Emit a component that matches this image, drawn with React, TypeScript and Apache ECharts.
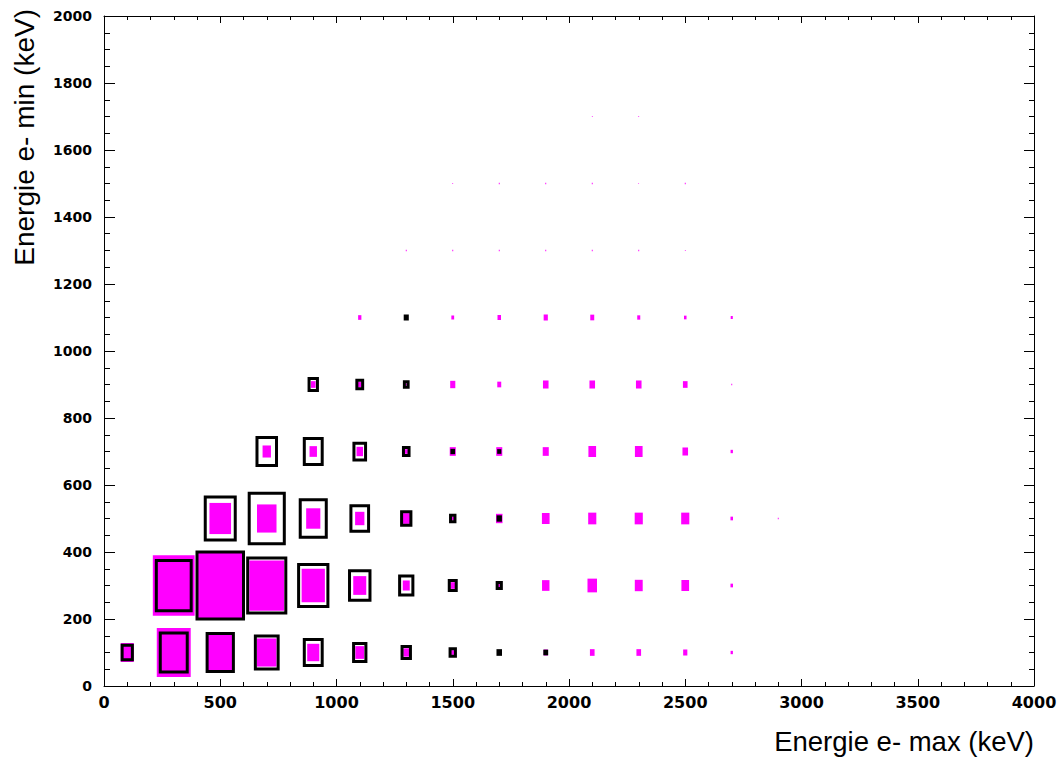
import React, { useEffect, useRef } from "react";
import * as echarts from "echarts";

// Bin geometry (keV)
const binWidth = 200;
const xCenters = [100, 300, 500, 700, 900, 1100, 1300, 1500, 1700, 1900, 2100, 2300, 2500, 2700, 2900];
const yCenters = [100, 300, 500, 700, 900, 1100, 1300, 1500, 1700];

// Relative bin contents (box size fraction), magenta filled histogram
const magentaRow100 = [0.28, 0.73, 0.53, 0.42, 0.26, 0.19, 0.125, 0.07, 0.03, 0.09, 0.1, 0.1, 0.09, 0.05, 0];
const magentaRow300 = [0, 0.9, 1.0, 0.75, 0.5, 0.28, 0.15, 0.1, 0.045, 0.16, 0.205, 0.17, 0.165, 0.055, 0];
const magentaRow500 = [0, 0, 0.465, 0.42, 0.305, 0.2, 0.16, 0.055, 0.14, 0.165, 0.175, 0.175, 0.175, 0.055, 0.02];
const magentaRow700 = [0, 0, 0, 0.18, 0.16, 0.14, 0.07, 0.13, 0.13, 0.13, 0.165, 0.165, 0.12, 0.05, 0];
const magentaRow900 = [0, 0, 0, 0, 0.1, 0.08, 0.03, 0.11, 0.085, 0.12, 0.12, 0.12, 0.1, 0.02, 0];
const magentaRow1100 = [0, 0, 0, 0, 0, 0.07, 0.02, 0.06, 0.075, 0.09, 0.085, 0.065, 0.055, 0.045, 0];
const magentaRow1300 = [0, 0, 0, 0, 0, 0, 0.02, 0.02, 0.02, 0.02, 0.02, 0.02, 0.015, 0, 0];
const magentaRow1500 = [0, 0, 0, 0, 0, 0, 0, 0.015, 0.02, 0.02, 0.02, 0.012, 0.02, 0, 0];
const magentaRow1700 = [0, 0, 0, 0, 0, 0, 0, 0, 0, 0, 0.015, 0.015, 0, 0, 0];

// Relative bin contents, black outlined histogram
const blackRow100 = [0.22, 0.58, 0.565, 0.49, 0.385, 0.265, 0.18, 0.115, 0.055, 0.04, 0, 0, 0, 0, 0];
const blackRow300 = [0, 0.75, 1.0, 0.82, 0.63, 0.44, 0.285, 0.15, 0.09, 0, 0, 0, 0, 0, 0];
const blackRow500 = [0, 0, 0.645, 0.755, 0.56, 0.38, 0.2, 0.095, 0.05, 0, 0, 0, 0, 0, 0];
const blackRow700 = [0, 0, 0, 0.42, 0.385, 0.25, 0.12, 0.035, 0.025, 0, 0, 0, 0, 0, 0];
const blackRow900 = [0, 0, 0, 0, 0.18, 0.125, 0.08, 0, 0, 0, 0, 0, 0, 0, 0];
const blackRow1100 = [0, 0, 0, 0, 0, 0, 0.045, 0, 0, 0, 0, 0, 0, 0, 0];
const blackRow1300 = [0, 0, 0, 0, 0, 0, 0, 0, 0, 0, 0, 0, 0, 0, 0];
const blackRow1500 = [0, 0, 0, 0, 0, 0, 0, 0, 0, 0, 0, 0, 0, 0, 0];
const blackRow1700 = [0, 0, 0, 0, 0, 0, 0, 0, 0, 0, 0, 0, 0, 0, 0];

const magentaRows = [magentaRow100, magentaRow300, magentaRow500, magentaRow700, magentaRow900, magentaRow1100, magentaRow1300, magentaRow1500, magentaRow1700];
const blackRows = [blackRow100, blackRow300, blackRow500, blackRow700, blackRow900, blackRow1100, blackRow1300, blackRow1500, blackRow1700];

const xTitle = "Energie e- max (keV)";
const yTitle = "Energie e- min (keV)";

function toPoints(rows: number[][]) {
  const out: number[][] = [];
  rows.forEach((row, j) => {
    row.forEach((v, i) => {
      if (v > 0) out.push([xCenters[i], yCenters[j], v]);
    });
  });
  return out;
}

function boxRenderer(kind: "fill" | "line") {
  return (_params: any, api: any) => {
    const xc = api.value(0);
    const yc = api.value(1);
    const f = api.value(2);
    const c = api.coord([xc, yc]);
    const s = api.size([binWidth, binWidth]);
    const w = s[0] * f;
    const h = s[1] * f;
    return {
      type: "rect",
      shape: { x: c[0] - w / 2, y: c[1] - h / 2, width: w, height: h },
      style:
        kind === "fill"
          ? { fill: "#ff00ff" }
          : { fill: "none", stroke: "#000000", lineWidth: 3, lineJoin: "miter" },
    };
  };
}

const labelFont = "'DejaVu Sans', 'Liberation Sans', sans-serif";
const titleFont = "'Liberation Sans', Arial, sans-serif";
const plain = (v: number) => String(v);

export default function App() {
  const ref = useRef<HTMLDivElement>(null);
  useEffect(() => {
    if (!ref.current) return;
    const chart = echarts.init(ref.current, undefined, { renderer: "svg" });
    const axisLine = { show: true, onZero: false, lineStyle: { color: "#000", width: 1 } };
    chart.setOption({
      animation: false,
      backgroundColor: "#ffffff",
      grid: { left: 104, right: 30, top: 16, bottom: 72, containLabel: false },
      xAxis: [
        {
          type: "value",
          min: 0,
          max: 4000,
          interval: 500,
          position: "bottom",
          axisLine,
          axisTick: { show: true, inside: true, length: 7, lineStyle: { color: "#000" } },
          minorTick: { show: true, splitNumber: 5, length: 4, lineStyle: { color: "#000" } },
          splitLine: { show: false },
          axisLabel: { color: "#000", fontFamily: labelFont, fontWeight: "bold", fontSize: 16, margin: 8, formatter: plain },
        },
        {
          type: "value",
          min: 0,
          max: 4000,
          interval: 500,
          position: "top",
          axisLine,
          axisTick: { show: true, inside: true, length: 7, lineStyle: { color: "#000" } },
          minorTick: { show: true, splitNumber: 5, length: 4, lineStyle: { color: "#000" } },
          splitLine: { show: false },
          axisLabel: { show: false },
        },
      ],
      yAxis: [
        {
          type: "value",
          min: 0,
          max: 2000,
          interval: 200,
          position: "left",
          axisLine,
          axisTick: { show: true, inside: true, length: 11, lineStyle: { color: "#000" } },
          minorTick: { show: true, splitNumber: 4, length: 6, lineStyle: { color: "#000" } },
          splitLine: { show: false },
          axisLabel: { color: "#000", fontFamily: labelFont, fontWeight: "bold", fontSize: 14, margin: 12, formatter: plain },
        },
        {
          type: "value",
          min: 0,
          max: 2000,
          interval: 200,
          position: "right",
          axisLine,
          axisTick: { show: true, inside: true, length: 10, lineStyle: { color: "#000" } },
          minorTick: { show: true, splitNumber: 4, length: 5, lineStyle: { color: "#000" } },
          splitLine: { show: false },
          axisLabel: { show: false },
        },
      ],
      series: [
        {
          type: "custom",
          name: "magenta",
          xAxisIndex: 0,
          yAxisIndex: 0,
          renderItem: boxRenderer("fill"),
          data: toPoints(magentaRows),
          z: 2,
          silent: true,
        },
        {
          type: "custom",
          name: "black",
          xAxisIndex: 0,
          yAxisIndex: 0,
          renderItem: boxRenderer("line"),
          data: toPoints(blackRows),
          z: 3,
          silent: true,
        },
      ],
      graphic: [
        {
          type: "text",
          x: 1034,
          y: 741,
          style: {
            text: xTitle,
            fill: "#000",
            font: `27.5px ${titleFont}`,
            align: "right",
            verticalAlign: "middle",
          },
        },
        {
          type: "text",
          x: 24,
          y: 9,
          rotation: Math.PI / 2,
          style: {
            text: yTitle,
            fill: "#000",
            font: `28px ${titleFont}`,
            align: "right",
            verticalAlign: "middle",
          },
        },
      ],
    });
    return () => chart.dispose();
  }, []);
  return (
    <div
      ref={ref}
      style={{ position: "fixed", left: 0, top: 0, width: 1064, height: 758, background: "#fff" }}
    />
  );
}
